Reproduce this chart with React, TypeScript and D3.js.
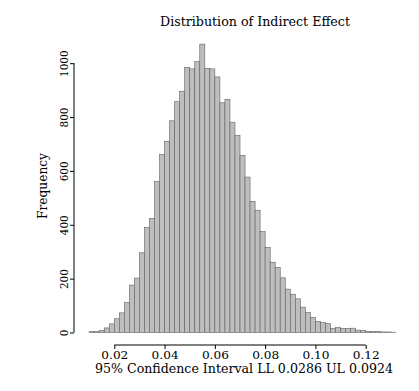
import React, { useEffect, useRef } from 'react';
import * as d3 from 'd3';

// histogram bins: lower edge of first bin and bin width
const binStart = 0.01;
const binWidth = 0.002;

// counts, one per bin (0.010 .. 0.132)
const counts = [
  3, 3, 7, 17, 32, 51, 73, 111, 176, 202,
  296, 390, 424, 561, 661, 710, 786, 857, 896, 984,
  979, 1006, 1071, 980, 979, 949, 853, 866, 781, 732,
  658, 577, 487, 454, 375, 316, 261, 242, 203, 161,
  142, 125, 94, 74, 56, 41, 37, 33, 15, 19,
  15, 15, 16, 9, 7, 4, 4, 4, 2, 2,
  1
];

const xTicks = [0.02, 0.04, 0.06, 0.08, 0.10, 0.12];
const yTicks = [0, 200, 400, 600, 800, 1000];

const title = 'Distribution of Indirect Effect';
const xLabel = '95% Confidence Interval LL 0.0286 UL 0.0924';
const yLabel = 'Frequency';

const FONT = '"DejaVu Serif", serif';

const App = () => {
  const svgRef = useRef(null);

  useEffect(() => {
    const svg = d3.select(svgRef.current);
    svg.selectAll('*').remove();

    const x = d3.scaleLinear().domain([0.02, 0.12]).range([114.3, 365.7]);
    const y = d3.scaleLinear().domain([0, 1000]).range([332.5, 63.2]);

    const bins = counts.map((c, i) => ({
      x0: binStart + i * binWidth,
      x1: binStart + (i + 1) * binWidth,
      count: c
    }));

    // bars
    svg.append('g')
      .selectAll('rect')
      .data(bins)
      .enter()
      .append('rect')
      .attr('x', d => x(d.x0))
      .attr('y', d => y(d.count))
      .attr('width', d => x(d.x1) - x(d.x0))
      .attr('height', d => y(0) - y(d.count))
      .attr('fill', '#bebebe')
      .attr('stroke', '#606060')
      .attr('stroke-width', 0.6);

    // x axis
    const xAxis = svg.append('g')
      .attr('transform', 'translate(0,345)')
      .call(d3.axisBottom(x).tickValues(xTicks).tickSize(4).tickSizeOuter(0)
        .tickFormat(d3.format('.2f')));
    xAxis.select('.domain').attr('stroke', '#000').attr('d', `M${x(0.02)},0H${x(0.12)}`);
    xAxis.selectAll('line').attr('stroke', '#000');
    xAxis.selectAll('text')
      .attr('y', 14)
      .attr('dy', null)
      .attr('textLength', 27)
      .attr('lengthAdjust', 'spacingAndGlyphs')
      .style('font-family', FONT)
      .style('font-size', '11px')
      .attr('fill', '#000');

    // y axis
    const yAxis = svg.append('g')
      .attr('transform', 'translate(74,0)')
      .call(d3.axisLeft(y).tickValues(yTicks).tickSize(4).tickSizeOuter(0));
    yAxis.select('.domain').attr('stroke', '#000').attr('d', `M0,${y(0)}V${y(1000)}`);
    yAxis.selectAll('line').attr('stroke', '#000');
    yAxis.selectAll('text').remove();
    yAxis.selectAll('.tick')
      .append('text')
      .attr('transform', 'translate(-6,0) rotate(-90)')
      .attr('text-anchor', 'middle')
      .attr('textLength', d => String(d).length * 6.6)
      .attr('lengthAdjust', 'spacingAndGlyphs')
      .style('font-family', FONT)
      .style('font-size', '11px')
      .attr('fill', '#000')
      .text(d => String(d));

    // labels
    svg.append('text')
      .attr('x', 255)
      .attr('y', 26)
      .attr('text-anchor', 'middle')
      .attr('textLength', 190)
      .attr('lengthAdjust', 'spacingAndGlyphs')
      .style('font-family', FONT)
      .style('font-size', '12.5px')
      .text(title);

    svg.append('text')
      .attr('x', 244)
      .attr('y', 373)
      .attr('text-anchor', 'middle')
      .attr('textLength', 298)
      .attr('lengthAdjust', 'spacingAndGlyphs')
      .style('font-family', FONT)
      .style('font-size', '12px')
      .text(xLabel);

    svg.append('text')
      .attr('transform', 'translate(47,186) rotate(-90)')
      .attr('text-anchor', 'middle')
      .attr('textLength', 66)
      .attr('lengthAdjust', 'spacingAndGlyphs')
      .style('font-family', FONT)
      .style('font-size', '12.5px')
      .text(yLabel);
  }, []);

  return (
    <svg
      ref={svgRef}
      width={419}
      height={391}
      style={{ position: 'absolute', left: 0, top: 0, background: '#fff' }}
    />
  );
};

export default App;
